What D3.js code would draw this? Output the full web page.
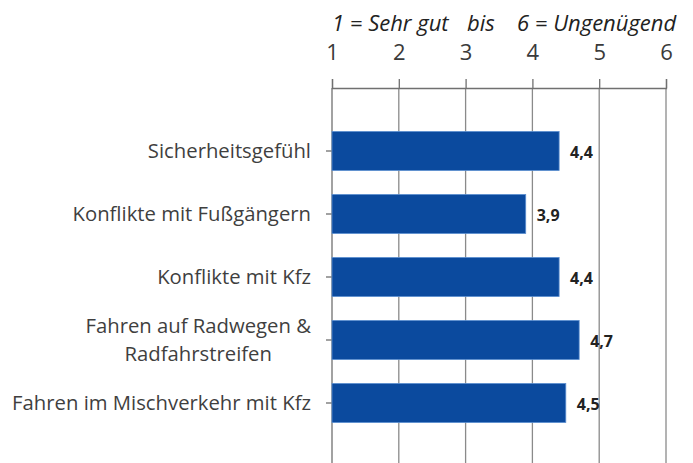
<!DOCTYPE html>
<html>
<head>
<meta charset="utf-8">
<script src="https://cdn.jsdelivr.net/npm/d3@7"></script>
<style>
    body { margin: 0; background: #fff; }
    svg { display: block; }
    text { font-family: 'Open Sans', sans-serif; }
</style>
</head>
<body>
<div id="chart"></div>
<script>
// values
var categories = ['Sicherheitsgefühl', 'Konflikte mit Fußgängern', 'Konflikte mit Kfz', 'Fahren auf Radwegen &|Radfahrstreifen', 'Fahren im Mischverkehr mit Kfz']
var values = [4.4, 3.9, 4.4, 4.7, 4.5]
var ticks = [1, 2, 3, 4, 5, 6]
var scaleTitle = ['1 = Sehr gut', 'bis', '6 = Ungenügend']

var size = ({width: 693, height: 463})
var margin = ({top: 88, left: 332, right: 27, bottom: 0})

var x = d3.scaleLinear()
    .domain([1, 6])
    .range([margin.left, size.width - margin.right])

var y = d3.scaleBand()
    .domain(categories)
    .range([119.5, 434.5])
    .paddingInner(0.38)
    .paddingOuter(0.19)

const svg = d3.select('#chart')
    .append('svg')
    .attr('width', size.width)
    .attr('height', size.height)

// vertical gridlines
svg.append('g')
    .selectAll('line')
    .data(ticks.slice(1))
    .join('line')
        .attr('x1', d => x(d))
        .attr('x2', d => x(d))
        .attr('y1', margin.top)
        .attr('y2', size.height)
        .attr('stroke', '#8a8a8a')
        .attr('stroke-width', 1.3)

// top axis
var xAxis = g => g
    .attr('transform', `translate(0, ${margin.top})`)
    .call(d3.axisTop(x).tickValues(ticks).tickSize(9).tickFormat(d => d))
    .call(g => g.select('.domain').attr('stroke', '#707070').attr('stroke-width', 1.3))
    .call(g => g.selectAll('.tick line').attr('stroke', '#707070').attr('stroke-width', 1.3))
    .call(g => g.selectAll('.tick text')
        .attr('y', -28)
        .attr('fill', '#3a3a3a')
        .style('font-size', '22px'))

svg.append('g').call(xAxis)

// left axis
var yAxis = g => g
    .attr('transform', `translate(${margin.left}, 0)`)
    .call(d3.axisLeft(y).tickSize(6).tickFormat(''))
    .call(g => g.select('.domain').attr('d', `M0,${margin.top}V${size.height}`).attr('stroke', '#707070').attr('stroke-width', 1.3))
    .call(g => g.selectAll('.tick line').attr('stroke', '#707070').attr('stroke-width', 1.3))

svg.append('g').call(yAxis)

// category labels (second line centred under the first)
svg.append('g')
    .selectAll('text')
    .data(categories)
    .join('text')
        .attr('fill', '#3f3f3f')
        .style('font-size', '20.3px')
        .each(function (d) {
            var lines = d.split('|')
            var cy = y(d) + y.bandwidth() / 2
            var t = d3.select(this)
            var first = t.append('tspan')
                .attr('x', 311)
                .attr('text-anchor', 'end')
                .attr('y', cy - (lines.length - 1) * 14)
                .attr('dy', '0.35em')
                .text(lines[0])
            if (lines.length > 1) {
                var w = first.node().getComputedTextLength()
                t.append('tspan')
                    .attr('x', 311 - w / 2)
                    .attr('text-anchor', 'middle')
                    .attr('y', cy + 14)
                    .attr('dy', '0.35em')
                    .text(lines[1])
            }
        })

// bars
svg.append('g')
    .selectAll('rect')
    .data(values)
    .join('rect')
        .attr('x', x(1))
        .attr('y', (d, i) => y(categories[i]))
        .attr('width', d => x(d) - x(1))
        .attr('height', y.bandwidth())
        .attr('fill', '#0b4a9e')
        .attr('stroke', '#5d8fd0')
        .attr('stroke-width', 0.8)

// value labels
svg.append('g')
    .selectAll('text')
    .data(values)
    .join('text')
        .attr('x', d => x(d) + 11)
        .attr('y', (d, i) => y(categories[i]) + y.bandwidth() / 2 + 1)
        .attr('dy', '0.35em')
        .attr('fill', '#222')
        .style('font-size', '16px')
        .style('font-weight', 'bold')
        .text(d => String(d).replace('.', ','))

// scale caption
var caption = svg.append('text')
    .attr('y', 31)
    .attr('fill', '#222')
    .style('font-size', '22px')
    .style('font-style', 'italic')
caption.append('tspan').attr('x', 332).text(scaleTitle[0])
caption.append('tspan').attr('x', 467).text(scaleTitle[1])
caption.append('tspan').attr('x', 517).text(scaleTitle[2])
</script>
</body>
</html>
